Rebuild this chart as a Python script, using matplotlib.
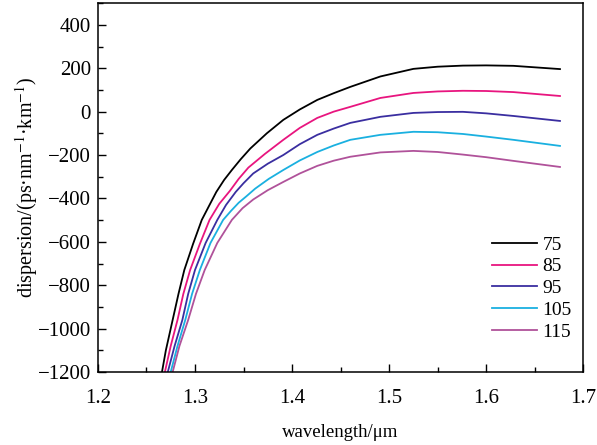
import matplotlib
matplotlib.use("Agg")
import matplotlib.pyplot as plt
from matplotlib.ticker import MultipleLocator

plt.rcParams["font.family"] = ["Liberation Serif", "DejaVu Serif"]
plt.rcParams["mathtext.fontset"] = "stix"
plt.rcParams["font.size"] = 14

# curves (wavelength in um, dispersion in ps/nm/km)
x_75 = [1.266, 1.270, 1.277, 1.283, 1.289, 1.298, 1.307, 1.315, 1.322, 1.330, 1.338, 1.347, 1.357, 1.374, 1.391, 1.408,
        1.426, 1.443, 1.460, 1.491, 1.525, 1.550, 1.576, 1.600, 1.628, 1.676]
y_75 = [-1200, -1100, -960, -840, -730, -610, -499, -430, -370, -315, -269, -220, -170, -100, -38, 10,
        54, 85, 114, 162, 197, 207, 212, 213, 211, 196]

x_85 = [1.269, 1.275, 1.282, 1.288, 1.295, 1.305, 1.315, 1.325, 1.336, 1.345, 1.355, 1.372, 1.391, 1.408,
        1.426, 1.443, 1.460, 1.491, 1.525, 1.550, 1.576, 1.600, 1.628, 1.676]
y_85 = [-1200, -1080, -960, -840, -730, -610, -499, -425, -365, -310, -258, -195, -130, -75,
        -29, 0, 22, 63, 86, 93, 96, 95, 90, 72]

x_95 = [1.272, 1.279, 1.287, 1.293, 1.300, 1.311, 1.323, 1.332, 1.342, 1.350, 1.360, 1.375, 1.391, 1.408,
        1.426, 1.443, 1.460, 1.491, 1.525, 1.550, 1.576, 1.600, 1.628, 1.676]
y_95 = [-1200, -1080, -960, -840, -730, -605, -499, -430, -370, -330, -285, -240, -200, -150,
        -107, -78, -52, -24, -6, -2, -1, -8, -20, -43]

x_105 = [1.275, 1.282, 1.290, 1.297, 1.305, 1.316, 1.329, 1.337, 1.345, 1.353, 1.362, 1.376, 1.391, 1.408,
         1.426, 1.443, 1.460, 1.491, 1.525, 1.550, 1.576, 1.600, 1.628, 1.676]
y_105 = [-1200, -1080, -960, -840, -730, -605, -499, -458, -420, -390, -355, -310, -269, -225,
         -186, -156, -130, -107, -93, -95, -103, -115, -130, -158]

x_115 = [1.277, 1.284, 1.293, 1.301, 1.310, 1.323, 1.338, 1.349, 1.360, 1.375, 1.391, 1.408,
         1.426, 1.443, 1.460, 1.491, 1.525, 1.550, 1.576, 1.600, 1.628, 1.676]
y_115 = [-1200, -1080, -960, -840, -730, -605, -499, -445, -405, -362, -324, -285,
         -250, -226, -208, -188, -181, -186, -198, -210, -227, -255]

labels = ["75", "85", "95", "105", "115"]
colors = ["#000000", "#e8157f", "#3a2ea0", "#1ab0e0", "#b0529a"]
xs = [x_75, x_85, x_95, x_105, x_115]
ys = [y_75, y_85, y_95, y_105, y_115]

fig = plt.figure(figsize=(5.97, 4.45), dpi=100)
ax = fig.add_axes([0.164, 0.164, 0.813, 0.829])

for x, y, lab, c in zip(xs, ys, labels, colors):
    ax.plot(x, y, color=c, lw=1.3, label=lab)

ax.set_xlim(1.2, 1.7)
ax.set_ylim(-1200, 500)
ax.xaxis.set_major_locator(MultipleLocator(0.1))
ax.xaxis.set_minor_locator(MultipleLocator(0.05))
ax.yaxis.set_minor_locator(MultipleLocator(100))
ax.set_yticks(range(-1200, 401, 200))
ax.tick_params(which="both", direction="in", top=False, right=False, labelsize=15)
ax.tick_params(which="major", length=6, width=1)
ax.tick_params(which="minor", length=3.6, width=1)
ax.tick_params(axis="x", which="major", pad=12)
ax.tick_params(axis="y", which="major", pad=5)
for s in ax.spines.values():
    s.set_linewidth(1.1)

ax.set_xlabel("wavelength/μm", fontsize=13.5)
ax.set_ylabel(r"dispersion/(ps·nm$^{-1}$·km$^{-1}$)", fontsize=14.5)
ax.xaxis.set_label_coords(0.5, -0.141)
ax.yaxis.set_label_coords(-0.12, 0.5)

ax.legend(loc="upper left", bbox_to_anchor=(0.812, 0.369), frameon=False,
          borderpad=0, borderaxespad=0, labelspacing=0.22,
          handlelength=2.3, handletextpad=0.3, fontsize=14)

fig.savefig("out.png", dpi=100)
